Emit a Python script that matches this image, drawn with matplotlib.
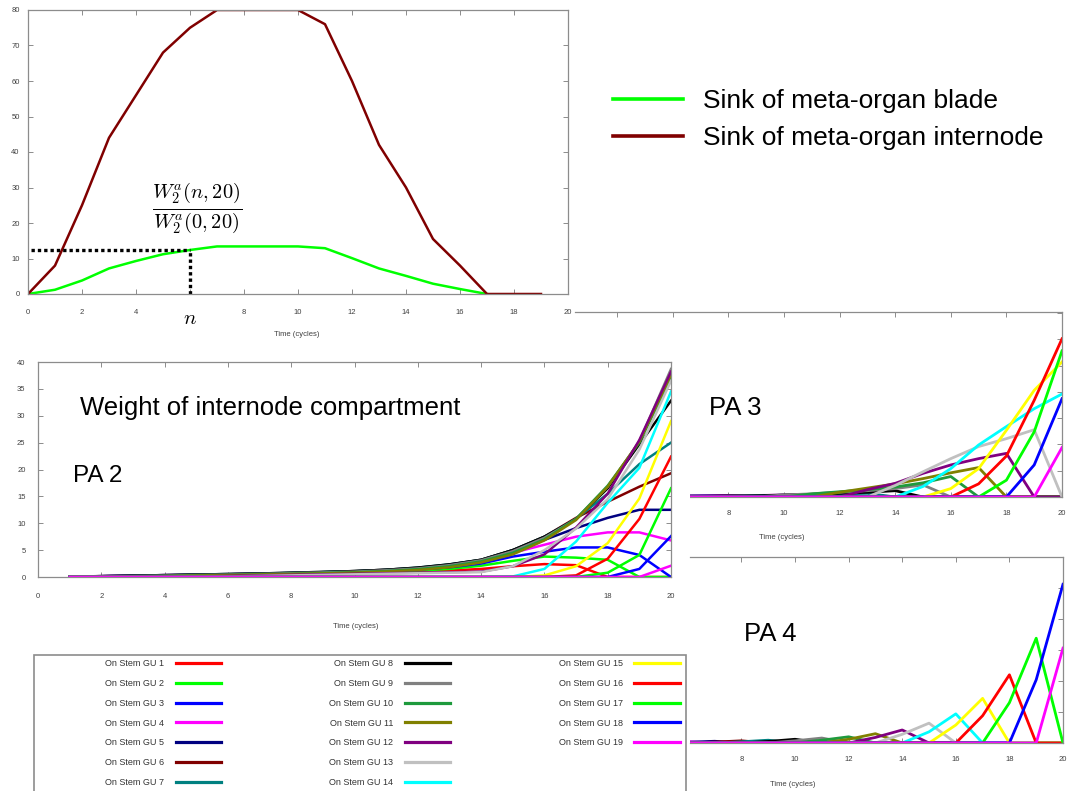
import matplotlib
matplotlib.use('Agg')
import matplotlib.pyplot as plt
from matplotlib.patches import Rectangle
from matplotlib.lines import Line2D

W, H = 1067, 791

plt.rcParams['font.family'] = ['Liberation Sans', 'DejaVu Sans']
plt.rcParams['mathtext.fontset'] = 'cm'

####### data #######

# top chart: sink of meta-organs
time_top = list(range(0, 20))
sink_internode = [0, 8, 25, 44, 56, 68, 75, 80, 80, 80, 80, 76, 60, 42, 30, 15.5, 8, 0, 0, 0]
time_blade = list(range(0, 18))
sink_blade = [0, 1.2, 3.8, 7.2, 9.3, 11.2, 12.4, 13.4, 13.4, 13.4, 13.4, 12.9, 10.1, 7.2, 5.1, 2.9, 1.4, 0]
n_cycle = 6
n_level = 12.4
top_xticks = [0, 2, 4, 6, 8, 10, 12, 14, 16, 18, 20]
top_xticklabels = ['0', '2', '4', '$n$', '8', '10', '12', '14', '16', '18', '20']

# weight of internode compartment, GU 1..19, cycles 1..20
cycles = list(range(1, 21))
gu_labels = ['On Stem GU %d' % i for i in range(1, 20)]
gu_colors = ['#ff0000', '#00ff00', '#0000ff', '#ff00ff', '#000080', '#800000', '#008080',
             '#000000', '#808080', '#1e9a3c', '#808000', '#800080', '#c0c0c0', '#00ffff',
             '#ffff00', '#ff0000', '#00ff00', '#0000ff', '#ff00ff']

pa2_values = [
    [0.1, 0.15, 0.2, 0.3, 0.35, 0.4, 0.5, 0.55, 0.6, 0.7, 0.8, 0.95, 1.2, 1.5, 2.0, 2.4, 2.2, 0, 0, 0],
    [0.1, 0.15, 0.2, 0.3, 0.4, 0.45, 0.55, 0.65, 0.75, 0.85, 1.0, 1.2, 1.5, 2.1, 3.0, 3.8, 3.6, 3.2, 0, 0],
    [0.1, 0.15, 0.25, 0.3, 0.4, 0.5, 0.6, 0.7, 0.8, 0.95, 1.1, 1.4, 1.8, 2.5, 3.8, 4.7, 5.5, 5.5, 4.1, 0],
    [0.1, 0.15, 0.25, 0.35, 0.4, 0.5, 0.6, 0.7, 0.85, 1.0, 1.2, 1.5, 2.0, 2.8, 4.5, 6.0, 7.5, 8.3, 8.3, 6.8],
    [0.1, 0.15, 0.25, 0.35, 0.45, 0.55, 0.65, 0.75, 0.9, 1.05, 1.3, 1.6, 2.2, 3.0, 5.0, 6.9, 9.1, 11.0, 12.5, 12.5],
    [0.1, 0.15, 0.25, 0.35, 0.45, 0.55, 0.65, 0.8, 0.95, 1.1, 1.35, 1.7, 2.3, 3.2, 5.0, 7.5, 11.0, 14.0, 16.8, 19.3],
    [0.1, 0.15, 0.25, 0.35, 0.45, 0.55, 0.65, 0.8, 0.95, 1.1, 1.35, 1.75, 2.35, 3.2, 5.0, 7.5, 10.8, 15.5, 21.0, 25.0],
    [0, 0.1, 0.2, 0.3, 0.4, 0.5, 0.6, 0.75, 0.9, 1.1, 1.35, 1.75, 2.35, 3.2, 5.0, 7.5, 10.8, 16.5, 24.7, 32.8],
    [0, 0.05, 0.15, 0.25, 0.35, 0.45, 0.55, 0.7, 0.85, 1.0, 1.25, 1.6, 2.2, 3.1, 4.8, 7.3, 10.8, 16.8, 25.2, 38.7],
    [0, 0, 0.1, 0.2, 0.3, 0.4, 0.5, 0.6, 0.75, 0.9, 1.1, 1.45, 2.0, 2.9, 4.5, 7.0, 10.8, 17.0, 25.0, 37.0],
    [0, 0, 0.05, 0.15, 0.25, 0.35, 0.45, 0.55, 0.65, 0.8, 1.0, 1.3, 1.8, 2.7, 4.2, 6.8, 10.6, 16.8, 25.2, 37.6],
    [0, 0, 0, 0.05, 0.1, 0.2, 0.3, 0.4, 0.5, 0.6, 0.7, 0.8, 0.9, 1.0, 2.0, 4.2, 9.2, 15.5, 25.5, 38.2],
    [0, 0, 0, 0, 0.05, 0.1, 0.2, 0.3, 0.4, 0.5, 0.6, 0.7, 0.8, 0.9, 2.0, 5.0, 9.0, 14.5, 23.7, 36.5],
    [0, 0, 0, 0, 0, 0, 0, 0, 0, 0, 0, 0, 0, 0, 0.1, 1.5, 6.6, 13.8, 20.3, 34.5],
    [0, 0, 0, 0, 0, 0, 0, 0, 0, 0, 0, 0, 0, 0, 0, 0.3, 2.0, 6.3, 14.6, 29.0],
    [0, 0, 0, 0, 0, 0, 0, 0, 0, 0, 0, 0, 0, 0, 0, 0, 0.3, 3.4, 10.8, 22.4],
    [0, 0, 0, 0, 0, 0, 0, 0, 0, 0, 0, 0, 0, 0, 0, 0, 0, 0.8, 4.1, 16.5],
    [0, 0, 0, 0, 0, 0, 0, 0, 0, 0, 0, 0, 0, 0, 0, 0, 0, 0, 1.5, 7.6],
    [0, 0, 0, 0, 0, 0, 0, 0, 0, 0, 0, 0, 0, 0, 0, 0, 0, 0, 0, 2.1],
]

pa3_values = [
    [0, 0.05, 0.08, 0.11, 0.14, 0.17, 0.2, 0, 0, 0, 0, 0, 0, 0, 0, 0, 0, 0, 0, 0],
    [0, 0, 0.06, 0.1, 0.13, 0.17, 0.21, 0.25, 0, 0, 0, 0, 0, 0, 0, 0, 0, 0, 0, 0],
    [0, 0, 0, 0.07, 0.11, 0.16, 0.2, 0.25, 0.3, 0, 0, 0, 0, 0, 0, 0, 0, 0, 0, 0],
    [0, 0, 0, 0, 0.08, 0.13, 0.18, 0.23, 0.3, 0.35, 0, 0, 0, 0, 0, 0, 0, 0, 0, 0],
    [0, 0, 0, 0, 0, 0.1, 0.15, 0.22, 0.28, 0.34, 0.4, 0, 0, 0, 0, 0, 0, 0, 0, 0],
    [0, 0, 0, 0, 0, 0, 0.12, 0.2, 0.28, 0.35, 0.42, 0.5, 0, 0, 0, 0, 0, 0, 0, 0],
    [0, 0, 0, 0, 0, 0, 0, 0.15, 0.25, 0.35, 0.45, 0.55, 0.7, 0, 0, 0, 0, 0, 0, 0],
    [0, 0, 0, 0, 0, 0, 0, 0, 0.2, 0.35, 0.5, 0.7, 0.9, 1.2, 0, 0, 0, 0, 0, 0],
    [0, 0, 0, 0, 0, 0, 0, 0, 0, 0.4, 0.6, 0.9, 1.2, 1.6, 2.3, 0, 0, 0, 0, 0],
    [0, 0, 0, 0, 0, 0, 0, 0, 0, 0, 0.6, 1.0, 1.4, 1.9, 2.7, 3.9, 0, 0, 0, 0],
    [0, 0, 0, 0, 0, 0, 0, 0, 0, 0, 0, 0.9, 1.7, 2.5, 3.5, 4.6, 5.6, 0, 0, 0],
    [0, 0, 0, 0, 0, 0, 0, 0, 0, 0, 0, 0, 1.4, 2.6, 4.5, 6.1, 7.3, 8.3, 0, 0],
    [0, 0, 0, 0, 0, 0, 0, 0, 0, 0, 0, 0, 0, 2.2, 4.8, 7.3, 9.6, 11.1, 12.8, 0],
    [0, 0, 0, 0, 0, 0, 0, 0, 0, 0, 0, 0, 0, 0, 2.0, 5.4, 9.9, 13.4, 16.8, 19.6],
    [0, 0, 0, 0, 0, 0, 0, 0, 0, 0, 0, 0, 0, 0, 0, 1.6, 5.4, 12.7, 20.3, 25.7],
    [0, 0, 0, 0, 0, 0, 0, 0, 0, 0, 0, 0, 0, 0, 0, 0, 2.5, 7.8, 18.4, 30.1],
    [0, 0, 0, 0, 0, 0, 0, 0, 0, 0, 0, 0, 0, 0, 0, 0, 0, 3.2, 12.4, 27.8],
    [0, 0, 0, 0, 0, 0, 0, 0, 0, 0, 0, 0, 0, 0, 0, 0, 0, 0, 6.1, 18.7],
    [0, 0, 0, 0, 0, 0, 0, 0, 0, 0, 0, 0, 0, 0, 0, 0, 0, 0, 0, 9.4],
]

pa4_values = [
    [0, 0.05, 0.1, 0, 0, 0, 0, 0, 0, 0, 0, 0, 0, 0, 0, 0, 0, 0, 0, 0],
    [0, 0, 0.07, 0.13, 0, 0, 0, 0, 0, 0, 0, 0, 0, 0, 0, 0, 0, 0, 0, 0],
    [0, 0, 0, 0.08, 0.17, 0, 0, 0, 0, 0, 0, 0, 0, 0, 0, 0, 0, 0, 0, 0],
    [0, 0, 0, 0, 0.1, 0.22, 0, 0, 0, 0, 0, 0, 0, 0, 0, 0, 0, 0, 0, 0],
    [0, 0, 0, 0, 0, 0.12, 0.28, 0, 0, 0, 0, 0, 0, 0, 0, 0, 0, 0, 0, 0],
    [0, 0, 0, 0, 0, 0, 0.15, 0.35, 0, 0, 0, 0, 0, 0, 0, 0, 0, 0, 0, 0],
    [0, 0, 0, 0, 0, 0, 0, 0.2, 0.45, 0, 0, 0, 0, 0, 0, 0, 0, 0, 0, 0],
    [0, 0, 0, 0, 0, 0, 0, 0, 0.25, 0.6, 0, 0, 0, 0, 0, 0, 0, 0, 0, 0],
    [0, 0, 0, 0, 0, 0, 0, 0, 0, 0.35, 0.8, 0, 0, 0, 0, 0, 0, 0, 0, 0],
    [0, 0, 0, 0, 0, 0, 0, 0, 0, 0, 0.45, 1.0, 0, 0, 0, 0, 0, 0, 0, 0],
    [0, 0, 0, 0, 0, 0, 0, 0, 0, 0, 0, 0.6, 1.5, 0, 0, 0, 0, 0, 0, 0],
    [0, 0, 0, 0, 0, 0, 0, 0, 0, 0, 0, 0, 0.9, 2.1, 0, 0, 0, 0, 0, 0],
    [0, 0, 0, 0, 0, 0, 0, 0, 0, 0, 0, 0, 0, 1.4, 3.2, 0, 0, 0, 0, 0],
    [0, 0, 0, 0, 0, 0, 0, 0, 0, 0, 0, 0, 0, 0, 1.8, 4.7, 0, 0, 0, 0],
    [0, 0, 0, 0, 0, 0, 0, 0, 0, 0, 0, 0, 0, 0, 0, 2.9, 7.2, 0, 0, 0],
    [0, 0, 0, 0, 0, 0, 0, 0, 0, 0, 0, 0, 0, 0, 0, 0, 4.4, 11.0, 0, 0],
    [0, 0, 0, 0, 0, 0, 0, 0, 0, 0, 0, 0, 0, 0, 0, 0, 0, 6.5, 16.9, 0],
    [0, 0, 0, 0, 0, 0, 0, 0, 0, 0, 0, 0, 0, 0, 0, 0, 0, 0, 10.2, 25.6],
    [0, 0, 0, 0, 0, 0, 0, 0, 0, 0, 0, 0, 0, 0, 0, 0, 0, 0, 0, 15.3],
]


####### helpers #######

def add_axes_px(fig, left, top, right, bottom, **kw):
    return fig.add_axes([left / W, 1 - bottom / H, (right - left) / W, (bottom - top) / H], **kw)


def style_frame(ax, pad_x, pad_y):
    for s in ax.spines.values():
        s.set_color('#8c8c8c')
        s.set_linewidth(0.9)
    ax.tick_params(direction='in', length=3.5, width=0.7, color='#8c8c8c',
                   labelsize=5.5, labelcolor='#404040', top=True, right=True)
    ax.tick_params(axis='x', pad=pad_x)
    ax.tick_params(axis='y', pad=pad_y)


fig = plt.figure(figsize=(W / 100, H / 100), dpi=100)

####### top chart #######
ax = add_axes_px(fig, 28, 10, 568, 294)
ax.set_zorder(3)
l_blade, = ax.plot(time_blade, sink_blade, color='#00ff00', lw=1.8)
l_int, = ax.plot(time_top, sink_internode, color='#800000', lw=1.8)
ax.plot([0.1, n_cycle], [n_level, n_level], color='black', lw=2.4, ls=(0, (1, 0.9)))
ax.plot([n_cycle, n_cycle], [0, n_level], color='black', lw=2.4, ls=(0, (1, 0.9)))
ax.text(6.25, 24.0, r'$\frac{W_2^a(n,20)}{W_2^a(0,20)}$', ha='center', va='center', fontsize=21)
ax.set_xlim(0, 20)
ax.set_ylim(0, 80)
ax.set_xticks(top_xticks, top_xticklabels)
ax.set_yticks(range(0, 81, 10))
style_frame(ax, 11, 6)
ax.get_xticklabels()[3].set_fontsize(15)
ax.get_xticklabels()[3].set_color('black')
ax.set_xlabel('Time (cycles)', fontsize=5.5, color='#404040')
ax.xaxis.set_label_coords(0.498, -0.13)

top_leg = fig.legend(handles=[l_blade, l_int],
                     labels=['Sink of meta-organ blade', 'Sink of meta-organ internode'],
                     loc='upper left', bbox_to_anchor=(613 / W, 1 - 89 / H), frameon=False,
                     fontsize=19, handlelength=2.65, handletextpad=0.75, labelspacing=0.5,
                     borderpad=0, borderaxespad=0)
for ln in top_leg.get_lines():
    ln.set_linewidth(2.6)

####### PA 3 (partly hidden) #######
ax3 = add_axes_px(fig, 575, 312, 1062, 497)
ax3.set_zorder(1)
for vals, c in zip(pa3_values, gu_colors):
    ax3.plot(cycles, vals, color=c, lw=2)
ax3.set_xlim(2.48, 20)
ax3.set_ylim(0, 35.2)
ax3.set_xticks(range(4, 21, 2))
ax3.set_yticks(range(0, 36, 5))
style_frame(ax3, 9.5, 6)
ax3.spines['left'].set_visible(False)
ax3.tick_params(axis='y', left=False, labelleft=False)
ax3.set_xlabel('Time (cycles)', fontsize=5.5, color='#404040')
ax3.xaxis.set_label_coords(0.425, -0.2)

# white sheet over the left part of PA 3
fig.add_artist(Rectangle((0, 1 - 655 / H), 690 / W, (655 - 338) / H, transform=fig.transFigure,
                         facecolor='white', edgecolor='none', zorder=2))

####### PA 2 #######
ax2 = add_axes_px(fig, 38, 362, 671, 577)
ax2.set_zorder(3)
pa2_lines = []
for vals, c in zip(pa2_values, gu_colors):
    ln, = ax2.plot(cycles, vals, color=c, lw=1.8)
    pa2_lines.append(ln)
ax2.set_xlim(0, 20)
ax2.set_ylim(0, 40)
ax2.set_xticks(range(0, 21, 2))
ax2.set_yticks(range(0, 41, 5))
style_frame(ax2, 11.5, 9)
ax2.set_xlabel('Time (cycles)', fontsize=5.5, color='#404040')
ax2.xaxis.set_label_coords(0.502, -0.214)

####### PA 4 #######
ax4 = add_axes_px(fig, 690, 557, 1063, 743)
ax4.set_zorder(3)
for vals, c in zip(pa4_values, gu_colors):
    ax4.plot(cycles, vals, color=c, lw=2)
ax4.set_xlim(6.08, 20)
ax4.set_ylim(0, 30)
ax4.set_xticks(range(8, 21, 2))
ax4.set_yticks(range(0, 31, 5))
style_frame(ax4, 9.5, 6)
ax4.spines['left'].set_visible(False)
ax4.tick_params(axis='y', left=False, labelleft=False)
ax4.set_xlabel('Time (cycles)', fontsize=5.5, color='#404040')
ax4.xaxis.set_label_coords(0.276, -0.204)

####### annotations #######
fig.text(80 / W, 1 - 408 / H, 'Weight of internode compartment', fontsize=18.5,
         va='center', ha='left', zorder=6)
fig.text(73 / W, 1 - 476 / H, 'PA 2', fontsize=17.5, va='center', ha='left', zorder=6)
fig.text(709 / W, 1 - 408 / H, 'PA 3', fontsize=18.5, va='center', ha='left', zorder=6)
fig.text(744 / W, 1 - 634 / H, 'PA 4', fontsize=18.5, va='center', ha='left', zorder=6)

####### GU legend #######
fig.add_artist(Rectangle((34 / W, -0.02), (686 - 34) / W, 0.02 + 1 - 655 / H,
                         transform=fig.transFigure, facecolor='white',
                         edgecolor='#8c8c8c', lw=1.2, zorder=4))
# two empty slots so the columns hold 7, 7 and 5 entries
blank = [Line2D([], [], alpha=0), Line2D([], [], alpha=0)]
leg = fig.legend(handles=pa2_lines + blank, labels=gu_labels + ['', ''], ncol=3,
                 loc='upper left', bbox_to_anchor=(105 / W, 1 - 659 / H), frameon=False,
                 fontsize=6.5, markerfirst=False, handlelength=5.0, handletextpad=1.3,
                 columnspacing=12, labelspacing=1.2, borderpad=0, borderaxespad=0)
leg.set_zorder(5)
for t in leg.get_texts():
    t.set_color('#333333')
for ln in leg.get_lines():
    ln.set_linewidth(2.3)

fig.savefig('out.png', dpi=100, facecolor='white')
